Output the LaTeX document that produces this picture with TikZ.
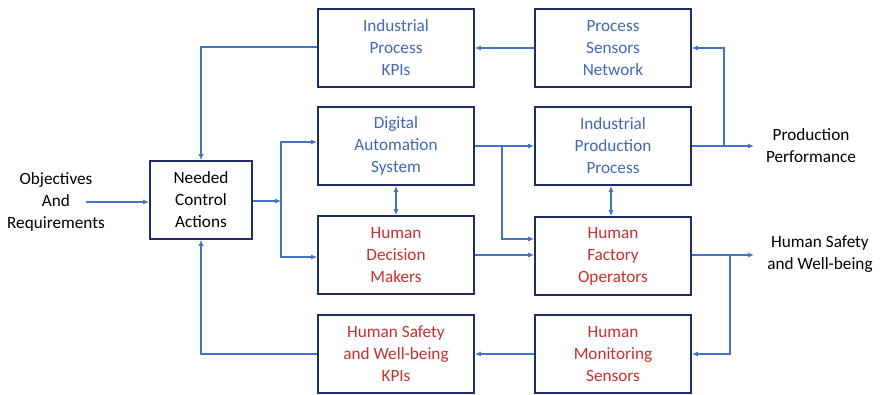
\documentclass[tikz,border=0pt]{standalone}
\usepackage{fontspec}
\setmainfont{Carlito}
\usepackage{xcolor}
\usepackage{tikz}
\usetikzlibrary{arrows.meta,positioning,calc}

\definecolor{boxline}{HTML}{1F2C6E}
\definecolor{flowblue}{HTML}{4472C4}
\definecolor{txtblue}{HTML}{4169B4}
\definecolor{txtred}{HTML}{C8302C}

\begin{document}
\begin{tikzpicture}[x=1pt, y=-1pt, font=\fontsize{17.2}{22}\selectfont,
    box/.style={draw=boxline, line width=1.6pt, fill=white, align=center,
      minimum width=156pt, minimum height=78pt, inner sep=2pt},
    lnk/.style={draw=flowblue, line width=1.4pt,
      -{Latex[length=6pt,width=5pt]}},
    plain/.style={draw=flowblue, line width=1.4pt}]
    \useasboundingbox (0,0) rectangle (880,394);

    % boxes
    \node[box, text=txtblue] (kpi) at (396,48) {Industrial\\Process\\KPIs};
    \node[box, text=txtblue] (psn) at (613,48) {Process\\Sensors\\Network};
    \node[box, text=txtblue] (das) at (396,146) {Digital\\Automation\\System};
    \node[box, text=txtblue] (ipp) at (613,146) {Industrial\\Production\\Process};
    \node[box, text=txtred] (hdm) at (396,255) {Human\\Decision\\Makers};
    \node[box, text=txtred] (hfo) at (613,256) {Human\\Factory\\Operators};
    \node[box, text=txtred] (hskpi) at (396,354) {Human Safety\\and Well-being\\KPIs};
    \node[box, text=txtred] (hms) at (613,354) {Human\\Monitoring\\Sensors};
    \node[box, minimum width=102pt] (nca) at (201,200) {Needed\\Control\\Actions};

    % outer texts
    \node[align=center] (obj) at (56,202) {Objectives\\And\\Requirements};
    \node[align=center] (perf) at (811,146) {Production\\Performance};
    \node[align=center] (safe) at (820,254) {Human Safety\\and Well-being};
    \coordinate (objend) at (86,202);
    \coordinate (split) at (281,201);
    \coordinate (fork) at (502,146);
    \coordinate (perfend) at (754,146);
    \coordinate (perffork) at (724,146);
    \coordinate (safeend) at (754,255);
    \coordinate (safefork) at (730,255);

    % input and control
    \draw[lnk] (objend) -- (nca.west |- objend);
    \draw[lnk] (nca.east |- split) -- (split);
    \draw[lnk] (split) |- ([yshift=4pt]das.west);
    \draw[lnk] (split) |- ([yshift=-2pt]hdm.west);

    % feedback loops
    \draw[lnk] ([yshift=1pt]kpi.west) -| (nca.north);
    \draw[lnk] (hskpi.west) -| (nca.south);
    \draw[lnk] (psn.west) -- (kpi.east);
    \draw[lnk] (hms.west) -- (hskpi.east);

    % middle links
    \draw[draw=flowblue, line width=1.4pt,
      {Latex[length=6pt,width=5pt]}-{Latex[length=6pt,width=5pt]}]
      (das.south) -- (hdm.north);
    \draw[draw=flowblue, line width=1.4pt,
      {Latex[length=6pt,width=5pt]}-{Latex[length=6pt,width=5pt]}]
      ([xshift=-2pt]ipp.south) -- ([xshift=-2pt]hfo.north);
    \draw[lnk] (das.east) -- (ipp.west);
    \draw[lnk] (fork) |- ([yshift=17pt]hfo.west);
    \draw[lnk] (hdm.east) -- (hdm.east -| hfo.west);

    % outputs
    \draw[lnk] (ipp.east) -- (perfend);
    \draw[lnk] (perffork) |- (psn.east);
    \draw[lnk] (hfo.east |- safeend) -- (safeend);
    \draw[lnk] (safefork) |- (hms.east);
  \end{tikzpicture}
\end{document}
